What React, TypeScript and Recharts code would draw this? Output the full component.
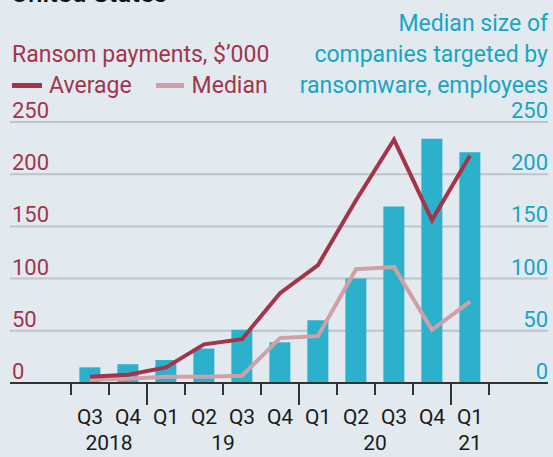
import { ComposedChart, Bar, Line, XAxis, YAxis, CartesianGrid } from "recharts";

const quarters = ["Q3", "Q4", "Q1", "Q2", "Q3", "Q4", "Q1", "Q2", "Q3", "Q4", "Q1"];
// employees, right axis
const companySize = [15, 18, 22, 33, 51, 39, 60, 100, 169, 234, 221];
// $'000, left axis
const averagePayment = [6, 8, 15, 37, 42, 86, 113, 175, 233, 156, 218];
const medianPayment = [3, 4, 6, 6, 7, 43, 45, 109, 111, 51, 78];
const years = [
  { label: "2018", first: 0, count: 2 },
  { label: "19", first: 2, count: 4 },
  { label: "20", first: 6, count: 4 },
  { label: "21", first: 10, count: 1 },
];
const yTicks = [0, 50, 100, 150, 200, 250];

const RED = "#a3344a";
const PINK = "#d0a0a8";
const CYAN = "#2bb1cc";
const CYAN_TEXT = "#17a5c6";
const BG = "#e2eaf0";
const FONT = "Roboto, 'Noto Sans', sans-serif";

const W = 553;
const H = 457;
const PLOT_LEFT = 10;
const PLOT_RIGHT = 548;
const PAD_L = 61;
const PAD_R = 59;
const BAND = (PLOT_RIGHT - PLOT_LEFT - PAD_L - PAD_R) / quarters.length;
const BASE_Y = 383;

const data = quarters.map((q, i) => ({
  key: `${q}-${i}`,
  quarter: q,
  size: companySize[i],
  average: averagePayment[i],
  median: medianPayment[i],
}));

function QuarterTick(props: any) {
  const { x, payload } = props;
  const i: number = payload.index;
  const half = payload.offset || BAND / 2;
  const left = x - half;
  const yearStart = years.find((yr) => yr.first === i);
  const isBoundary = (idx: number) => years.some((yr) => yr.first === idx);
  return (
    <g>
      <line
        x1={left}
        x2={left}
        y1={BASE_Y}
        y2={isBoundary(i) && i > 0 ? BASE_Y + 22 : BASE_Y + 12}
        stroke="#333"
        strokeWidth={2}
      />
      {i === quarters.length - 1 && (
        <line x1={x + half} x2={x + half} y1={BASE_Y} y2={BASE_Y + 12} stroke="#333" strokeWidth={2} />
      )}
      <text x={x} y={BASE_Y + 41} textAnchor="middle" fill="#1a1a1a" fontSize={21} fontFamily={FONT}>
        {quarters[i]}
      </text>
      {yearStart && (
        <text
          x={left + yearStart.count * half}
          y={BASE_Y + 67}
          textAnchor="middle"
          fill="#1a1a1a"
          fontSize={21}
          fontFamily={FONT}
        >
          {yearStart.label}
        </text>
      )}
    </g>
  );
}

function LeftTick(props: any) {
  const { y, payload } = props;
  return (
    <text x={PLOT_LEFT + 2} y={y - 4} textAnchor="start" fill={RED} fontSize={22} fontFamily={FONT}>
      {payload.value}
    </text>
  );
}

function RightTick(props: any) {
  const { y, payload } = props;
  return (
    <text x={PLOT_RIGHT} y={y - 4} textAnchor="end" fill={CYAN_TEXT} fontSize={22} fontFamily={FONT}>
      {payload.value}
    </text>
  );
}

const textStyle = {
  position: "absolute" as const,
  fontFamily: FONT,
  fontSize: 23,
  lineHeight: "31px",
  whiteSpace: "nowrap" as const,
};

export default function App() {
  return (
    <div style={{ position: "absolute", left: 0, top: 0, width: W, height: H, background: BG, overflow: "hidden" }}>
      <div style={{ ...textStyle, left: 11, top: -22, fontSize: 26, fontWeight: 500, color: "#111" }}>United States</div>
      <div style={{ ...textStyle, left: 12, top: 39, color: RED }}>Ransom payments, $’000</div>
      <div style={{ ...textStyle, left: 12, top: 70, color: RED, display: "flex", alignItems: "center" }}>
        <span style={{ display: "inline-block", width: 30, height: 5, background: RED, marginRight: 7 }} />
        <span>Average</span>
        <span style={{ display: "inline-block", width: 28, height: 5, background: PINK, marginLeft: 24, marginRight: 8 }} />
        <span>Median</span>
      </div>
      <div style={{ ...textStyle, right: 5, top: 8, color: CYAN_TEXT, textAlign: "right" }}>
        Median size of
        <br />
        companies targeted by
        <br />
        ransomware, employees
      </div>
      <ComposedChart
        width={W}
        height={H}
        data={data}
        margin={{ top: 122, right: W - PLOT_RIGHT - 1, bottom: 0, left: PLOT_LEFT - 1 }}
        barCategoryGap="22%"
        style={{ position: "absolute", left: 0, top: 0 }}
      >
        <CartesianGrid yAxisId="left" vertical={false} stroke="#bcc5cb" strokeWidth={2} />
        <XAxis
          dataKey="key"
          height={H - BASE_Y}
          padding={{ left: PAD_L, right: PAD_R }}
          interval={0}
          axisLine={{ stroke: "#333", strokeWidth: 2 }}
          tickLine={false}
          tick={<QuarterTick />}
        />
        <YAxis
          yAxisId="left"
          width={1}
          domain={[0, 250]}
          ticks={yTicks}
          axisLine={false}
          tickLine={false}
          tick={<LeftTick />}
        />
        <YAxis
          yAxisId="right"
          orientation="right"
          width={1}
          domain={[0, 250]}
          ticks={yTicks}
          axisLine={false}
          tickLine={false}
          tick={<RightTick />}
        />
        <Bar yAxisId="right" dataKey="size" fill={CYAN} isAnimationActive={false} />
        <Line yAxisId="left" dataKey="median" stroke={PINK} strokeWidth={4} dot={false} isAnimationActive={false} />
        <Line yAxisId="left" dataKey="average" stroke={RED} strokeWidth={4} dot={false} isAnimationActive={false} />
      </ComposedChart>
    </div>
  );
}
